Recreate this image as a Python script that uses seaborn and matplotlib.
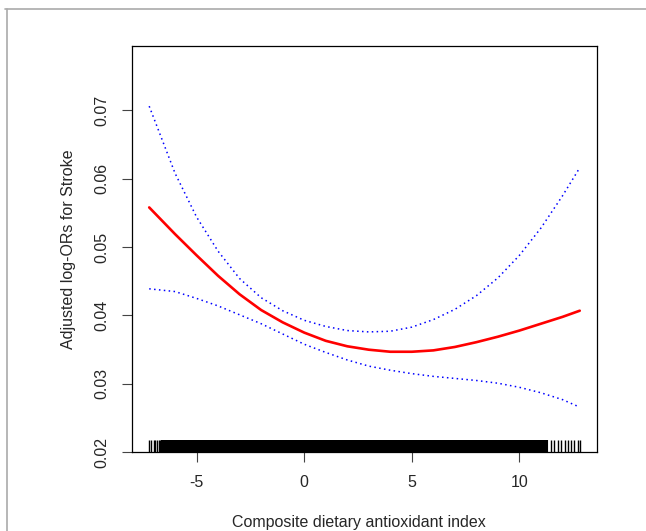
import numpy as np
import pandas as pd
import matplotlib.pyplot as plt
import seaborn as sns
from matplotlib.lines import Line2D

# curva stimata e intervallo di confidenza
cdai = [-7.2, -6, -5, -4, -3, -2, -1, 0, 1, 2, 3, 4, 5, 6, 7, 8, 9, 10, 11, 12, 12.8]
fit = [0.0558, 0.0519, 0.0488, 0.0458, 0.0431, 0.0408, 0.0390, 0.0375, 0.0363, 0.0355, 0.0350,
       0.0347, 0.0347, 0.0349, 0.0354, 0.0361, 0.0369, 0.0378, 0.0388, 0.0398, 0.0407]
upper = [0.0706, 0.0608, 0.0544, 0.0494, 0.0454, 0.0426, 0.0407, 0.0393, 0.0384, 0.0378, 0.0376,
         0.0377, 0.0383, 0.0394, 0.0409, 0.0429, 0.0455, 0.0488, 0.0528, 0.0575, 0.0616]
lower = [0.0439, 0.0435, 0.0425, 0.0414, 0.0401, 0.0388, 0.0373, 0.0358, 0.0346, 0.0335, 0.0326,
         0.0320, 0.0315, 0.0311, 0.0308, 0.0305, 0.0301, 0.0295, 0.0287, 0.0277, 0.0266]

# osservazioni per il rug
rug_x = [-7.2, -7.1, -7.0, -6.95, -6.85, -6.75, -6.7, -6.6,
         -6.5, -6.25, -6.0, -5.75, -5.5, -5.25, -5.0, -4.75, -4.5, -4.25,
         -4.0, -3.75, -3.5, -3.25, -3.0, -2.75, -2.5, -2.25, -2.0, -1.75,
         -1.5, -1.25, -1.0, -0.75, -0.5, -0.25, 0.0, 0.25, 0.5, 0.75,
         1.0, 1.25, 1.5, 1.75, 2.0, 2.25, 2.5, 2.75, 3.0, 3.25, 3.5, 3.75,
         4.0, 4.25, 4.5, 4.75, 5.0, 5.25, 5.5, 5.75, 6.0, 6.25, 6.5, 6.75,
         7.0, 7.25, 7.5, 7.75, 8.0, 8.25, 8.5, 8.75, 9.0, 9.25, 9.5, 9.75,
         10.0, 10.25, 10.5, 10.75, 11.0, 11.2,
         11.45, 11.6, 11.8, 11.95, 12.1, 12.25, 12.4, 12.55, 12.7, 12.8]

df = pd.DataFrame({"cdai": cdai, "fit": fit, "upper": upper, "lower": lower})

sns.set_style("white")
plt.rcParams["font.family"] = ["Liberation Sans", "DejaVu Sans"]

fig = plt.figure(figsize=(6.46, 5.31), dpi=100)
ax = fig.add_axes([0.2043, 0.1482, 0.7198, 0.7652])

dot = (0, (1, 2.2))
sns.lineplot(data=df, x="cdai", y="upper", ax=ax, color="blue", linewidth=1.1, linestyle=dot)
sns.lineplot(data=df, x="cdai", y="lower", ax=ax, color="blue", linewidth=1.1, linestyle=dot)
sns.lineplot(data=df, x="cdai", y="fit", ax=ax, color="red", linewidth=1.9)

# rug: tacche spesse, la parte centrale diventa una banda nera
sns.rugplot(x=rug_x[8:80], ax=ax, height=0.03, color="black", linewidth=4.4, alpha=1)
sns.rugplot(x=rug_x[:8] + rug_x[80:], ax=ax, height=0.03, color="black", linewidth=1.0, alpha=1)

ax.set_xlim(-8, 13.6)
ax.set_ylim(0.02, 0.0794)
ax.set_xticks([-5, 0, 5, 10])
ax.set_xticklabels(["-5", "0", "5", "10"])
ax.set_yticks([0.02, 0.03, 0.04, 0.05, 0.06, 0.07])
ax.set_yticklabels(["0.02", "0.03", "0.04", "0.05", "0.06", "0.07"], rotation=90, va="center")
ax.tick_params(axis="both", direction="out", length=7, width=0.8, color="#444",
               labelsize=11.5, pad=9, left=True, bottom=True)
ax.set_xlabel("Composite dietary antioxidant index", fontsize=11.5)
ax.set_ylabel("Adjusted log-ORs for Stroke", fontsize=11.5)
ax.xaxis.set_label_coords(0.487, -0.155)
ax.yaxis.set_label_coords(-0.12, 0.5)
for s in ax.spines.values():
    s.set_visible(True)
    s.set_color("black")
    s.set_linewidth(0.9)

# cornice grigia dello screenshot
fig.add_artist(Line2D([5 / 646, 1], [1 - 9 / 531, 1 - 9 / 531], color="#aaaaaa", lw=1.2))
fig.add_artist(Line2D([6.5 / 646, 6.5 / 646], [0, 1 - 9 / 531], color="#aaaaaa", lw=1.2))

fig.savefig("out.png", dpi=100)
plt.close()
